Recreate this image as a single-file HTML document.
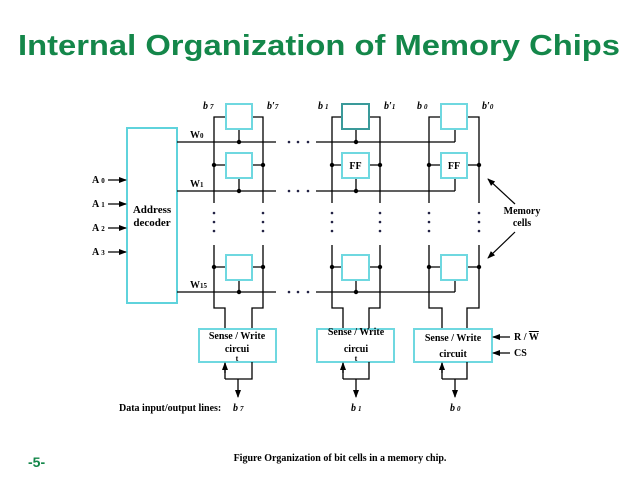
<!DOCTYPE html>
<html><head><meta charset="utf-8"><style>html,body{margin:0;padding:0;background:#fff}svg{display:block}</style></head>
<body>
<svg width="638" height="479" viewBox="0 0 638 479" xmlns="http://www.w3.org/2000/svg" font-family="Liberation Serif, serif" font-weight="bold">
<defs>
<marker id="ar" markerWidth="8" markerHeight="8" refX="7" refY="4" orient="auto" markerUnits="userSpaceOnUse"><path d="M0,1 L8,4 L0,7 z" fill="#000"/></marker>
</defs>
<text x="18" y="55" font-family="Liberation Sans, sans-serif" font-size="29" fill="#14874a" textLength="602" lengthAdjust="spacingAndGlyphs">Internal Organization of Memory Chips</text>
<text x="28" y="467" font-family="Liberation Sans, sans-serif" font-size="14" fill="#14874a">-5-</text>

<rect x="127" y="128" width="50" height="175" fill="none" stroke="#5fd3dc" stroke-width="2"/>
<text x="152" y="213" font-size="11" text-anchor="middle">Address</text>
<text x="152" y="226" font-size="11" text-anchor="middle">decoder</text>
<g font-size="10">
<text x="92" y="183">A<tspan font-size="7" dx="2">0</tspan></text>
<text x="92" y="207">A<tspan font-size="7" dx="2">1</tspan></text>
<text x="92" y="231">A<tspan font-size="7" dx="2">2</tspan></text>
<text x="92" y="255">A<tspan font-size="7" dx="2">3</tspan></text>
</g>
<g stroke="#000" stroke-width="1.3" marker-end="url(#ar)">
<line x1="108" y1="180" x2="126" y2="180"/>
<line x1="108" y1="204" x2="126" y2="204"/>
<line x1="108" y1="228" x2="126" y2="228"/>
<line x1="108" y1="252" x2="126" y2="252"/>
</g>
<g font-size="10">
<text x="190" y="138">W<tspan font-size="7">0</tspan></text>
<text x="190" y="187">W<tspan font-size="7">1</tspan></text>
<text x="190" y="288">W<tspan font-size="7">15</tspan></text>
</g>

<g stroke="#000" stroke-width="1.3" fill="none">
<path d="M177 142H276M316 142H455"/>
<path d="M177 191H276M316 191H455"/>
<path d="M177 292H276M316 292H455"/>
</g>
<g fill="#224">
<circle cx="289" cy="142" r="1.3"/><circle cx="298" cy="142" r="1.3"/><circle cx="308" cy="142" r="1.3"/>
<circle cx="289" cy="191" r="1.3"/><circle cx="298" cy="191" r="1.3"/><circle cx="308" cy="191" r="1.3"/>
<circle cx="289" cy="292" r="1.3"/><circle cx="298" cy="292" r="1.3"/><circle cx="308" cy="292" r="1.3"/>
</g>

<g>
<g stroke="#000" stroke-width="1.3" fill="none">
<path d="M214 203V117H226M252 117H263V203"/>
<path d="M214 245V308H225V329M263 245V308H252V329"/>
<path d="M214 165H226M252 165H263M214 267H226M252 267H263"/>
<path d="M239 129V142M239 178V191M239 280V292"/>
</g>
<g fill="none" stroke="#6fd8e0" stroke-width="2">
<rect x="226" y="104" width="26" height="25"/>
<rect x="226" y="153" width="26" height="25"/>
<rect x="226" y="255" width="26" height="25"/>
</g>
<g fill="#000">
<circle cx="239" cy="142" r="2.2"/><circle cx="239" cy="191" r="2.2"/><circle cx="239" cy="292" r="2.2"/>
<circle cx="214" cy="165" r="2.2"/><circle cx="263" cy="165" r="2.2"/><circle cx="214" cy="267" r="2.2"/><circle cx="263" cy="267" r="2.2"/>
</g>
<g fill="#224"><circle cx="214" cy="213" r="1.3"/><circle cx="214" cy="222" r="1.3"/><circle cx="214" cy="231" r="1.3"/>
<circle cx="263" cy="213" r="1.3"/><circle cx="263" cy="222" r="1.3"/><circle cx="263" cy="231" r="1.3"/></g>
</g>

<g>
<g stroke="#000" stroke-width="1.3" fill="none">
<path d="M332 203V117H342M369 117H380V203"/>
<path d="M332 245V308H343V329M380 245V308H369V329"/>
<path d="M332 165H342M369 165H380M332 267H342M369 267H380"/>
<path d="M356 129V142M356 178V191M356 280V292"/>
</g>
<g fill="none" stroke-width="2">
<rect x="342" y="104" width="27" height="25" stroke="#3a9a9a"/>
<rect x="342" y="153" width="27" height="25" stroke="#6fd8e0"/>
<rect x="342" y="255" width="27" height="25" stroke="#6fd8e0"/>
</g>
<text x="355.5" y="169" font-size="10" text-anchor="middle">FF</text>
<g fill="#000">
<circle cx="356" cy="142" r="2.2"/><circle cx="356" cy="191" r="2.2"/><circle cx="356" cy="292" r="2.2"/>
<circle cx="332" cy="165" r="2.2"/><circle cx="380" cy="165" r="2.2"/><circle cx="332" cy="267" r="2.2"/><circle cx="380" cy="267" r="2.2"/>
</g>
<g fill="#224"><circle cx="332" cy="213" r="1.3"/><circle cx="332" cy="222" r="1.3"/><circle cx="332" cy="231" r="1.3"/>
<circle cx="380" cy="213" r="1.3"/><circle cx="380" cy="222" r="1.3"/><circle cx="380" cy="231" r="1.3"/></g>
</g>

<g>
<g stroke="#000" stroke-width="1.3" fill="none">
<path d="M429 203V117H441M467 117H479V203"/>
<path d="M429 245V308H442V329M479 245V308H467V329"/>
<path d="M429 165H441M467 165H479M429 267H441M467 267H479"/>
<path d="M455 129V142M455 178V191M455 280V292"/>
</g>
<g fill="none" stroke="#6fd8e0" stroke-width="2">
<rect x="441" y="104" width="26" height="25"/>
<rect x="441" y="153" width="26" height="25"/>
<rect x="441" y="255" width="26" height="25"/>
</g>
<text x="454" y="169" font-size="10" text-anchor="middle">FF</text>
<g fill="#000">
<circle cx="429" cy="165" r="2.2"/><circle cx="479" cy="165" r="2.2"/><circle cx="429" cy="267" r="2.2"/><circle cx="479" cy="267" r="2.2"/>
</g>
<g fill="#224"><circle cx="429" cy="213" r="1.3"/><circle cx="429" cy="222" r="1.3"/><circle cx="429" cy="231" r="1.3"/>
<circle cx="479" cy="213" r="1.3"/><circle cx="479" cy="222" r="1.3"/><circle cx="479" cy="231" r="1.3"/></g>
</g>

<g font-size="10" font-style="italic">
<text x="203" y="109">b<tspan font-size="7" dx="2">7</tspan></text>
<text x="267" y="109">b′<tspan font-size="7">7</tspan></text>
<text x="318" y="109">b<tspan font-size="7" dx="2">1</tspan></text>
<text x="384" y="109">b′<tspan font-size="7">1</tspan></text>
<text x="417" y="109">b<tspan font-size="7" dx="2">0</tspan></text>
<text x="482" y="109">b′<tspan font-size="7">0</tspan></text>
</g>

<text x="522" y="214" font-size="10" text-anchor="middle">Memory</text>
<text x="522" y="226" font-size="10" text-anchor="middle">cells</text>
<g stroke="#000" stroke-width="1.2" marker-end="url(#ar)">
<line x1="515" y1="204" x2="488" y2="179"/>
<line x1="515" y1="232" x2="488" y2="258"/>
</g>

<g fill="none" stroke="#6fd8e0" stroke-width="2">
<rect x="199" y="329" width="77" height="33"/>
<rect x="317" y="329" width="77" height="33"/>
<rect x="414" y="329" width="78" height="33"/>
</g>
<g font-size="10" text-anchor="middle">
<text x="237" y="339">Sense / Write</text><text x="237" y="352">circui</text><text x="237" y="361" font-size="8">t</text>
<text x="356" y="335">Sense / Write</text><text x="356" y="352">circui</text><text x="356" y="361" font-size="8">t</text>
<text x="453" y="341">Sense / Write</text><text x="453" y="357">circuit</text>
</g>
<text x="514" y="340" font-size="10">R / <tspan text-decoration="overline">W</tspan></text>
<text x="514" y="356" font-size="10">CS</text>
<g stroke="#000" stroke-width="1.2" marker-end="url(#ar)">
<line x1="510" y1="337" x2="493" y2="337"/>
<line x1="510" y1="353" x2="493" y2="353"/>
</g>

<g stroke="#000" stroke-width="1.3" fill="none">
<path d="M225 379V363M225 379H252V362"/>
<path d="M343 379V363M343 379H369V362"/>
<path d="M442 379V363M442 379H467V362"/>
</g>
<g stroke="#000" stroke-width="1.3" marker-end="url(#ar)">
<line x1="225" y1="373" x2="225" y2="363"/>
<line x1="343" y1="373" x2="343" y2="363"/>
<line x1="442" y1="373" x2="442" y2="363"/>
<line x1="238" y1="379" x2="238" y2="397"/>
<line x1="356" y1="379" x2="356" y2="397"/>
<line x1="455" y1="379" x2="455" y2="397"/>
</g>
<text x="119" y="411" font-size="10">Data input/output lines:</text>
<g font-size="10" font-style="italic">
<text x="233" y="411">b<tspan font-size="7" dx="2">7</tspan></text>
<text x="351" y="411">b<tspan font-size="7" dx="2">1</tspan></text>
<text x="450" y="411">b<tspan font-size="7" dx="2">0</tspan></text>
</g>
<text x="340" y="461" font-size="10" text-anchor="middle">Figure Organization of bit cells in a memory chip.</text>
</svg>
</body></html>
